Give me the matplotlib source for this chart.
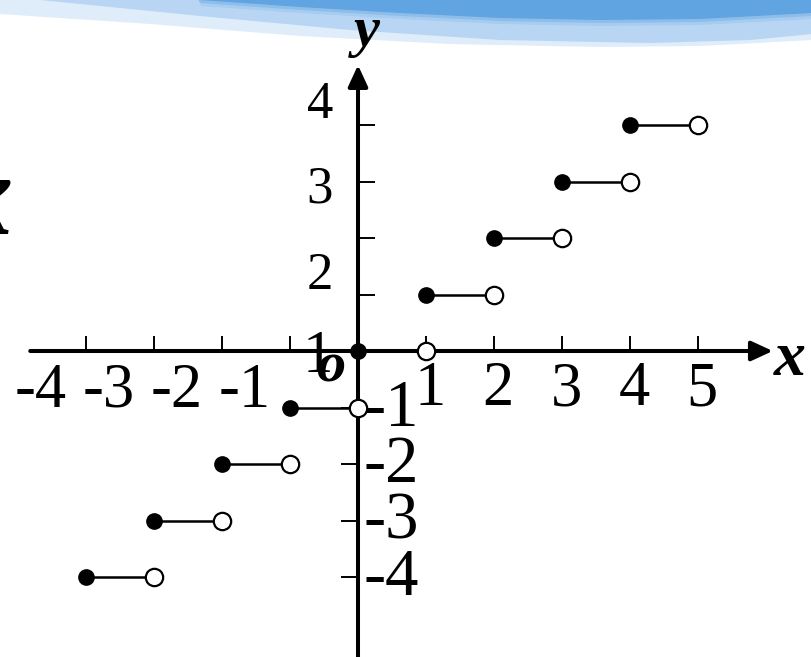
import matplotlib
matplotlib.use("Agg")
import matplotlib.pyplot as plt
import numpy as np

# y = floor(x): on [n, n+1) the value is n
levels = [-4, -3, -2, -1, 0, 1, 2, 3, 4]

x_ticks = [-4, -3, -2, -1, 1, 2, 3, 4, 5]
x_neg_labels = ["-4", "-3", "-2", "-1"]
x_pos_labels = ["1", "2", "3", "4", "5"]
y_pos_ticks = [1, 2, 3, 4]
y_pos_labels = ["1", "2", "3", "4"]
y_neg_ticks = [-1, -2, -3, -4]
y_neg_labels = ["-1", "-2", "-3", "-4"]

W, H = 812, 657
SERIF = "Liberation Serif"

fig = plt.figure(figsize=(W / 100, H / 100), dpi=100)

# ---- decorative banner along the top (pixel coordinates) ----
bg = fig.add_axes([0, 0, 1, 1])
bg.set_xlim(0, W)
bg.set_ylim(H, 0)
bg.axis("off")

bx = np.linspace(0, W, 300)
pale = np.interp(bx, [0, 150, 300, 450, 600, 700, 812], [14, 24, 36, 44, 47, 46, 40])
mid = np.interp(bx, [40, 200, 350, 500, 650, 750, 812], [0, 16, 30, 40, 43, 40, 34])
dark = np.interp(bx, [200, 300, 400, 500, 600, 700, 812], [0, 7, 13, 18, 20, 19, 13])
bg.fill_between(bx, 0, pale, color="#dfecf9", lw=0)
bg.fill_between(bx, 0, np.where(bx >= 40, mid, 0), color="#b8d6f3", lw=0)
bg.fill_between(bx, 0, np.where(bx >= 200, dark, 0), color="#60a4e2", lw=0)
# soft fade at the lower edge of the dark band
for k, a in enumerate([0.35, 0.2]):
    bg.fill_between(bx, 0, np.where(bx >= 200, dark + 3 * (k + 1), 0),
                    color="#60a4e2", alpha=a, lw=0)

# partial glyph cut by the left edge
bg.text(-16, 234, "x", fontsize=84, family=SERIF, weight="bold", style="italic",
        ha="center", va="baseline", color="k")

# ---- coordinate plane ----
ax = fig.add_axes([0, 0, 1, 1])
ax.patch.set_alpha(0)
ox, oy, sx, sy = 358, 351, 68.0, 56.5   # origin pixel and pixels per unit
ax.set_xlim(-ox / sx, (W - ox) / sx)
ax.set_ylim(-(H - oy) / sy, oy / sy)

for s in ax.spines.values():
    s.set_visible(False)
ax.spines["bottom"].set_position(("data", 0))
ax.spines["left"].set_position(("data", 0))

ax.set_xticks(x_ticks)
ax.set_yticks(y_pos_ticks)
ax.set_yticks(y_neg_ticks, minor=True)
ax.tick_params(axis="x", direction="in", length=11, width=1.4, color="k",
               labelbottom=False, top=False)
ax.tick_params(axis="y", which="major", direction="in", length=12, width=1.4,
               color="k", labelleft=False, right=False)
ax.tick_params(axis="y", which="minor", direction="out", length=12, width=1.4,
               color="k", labelleft=False, right=False)

# axes with arrowheads
arrow = dict(arrowstyle="-|>,head_length=0.65,head_width=0.3", lw=2.9,
             color="k", shrinkA=0, shrinkB=0, mutation_scale=20)
ax.annotate("", xy=(6.10, 0), xytext=(-4.82, 0), arrowprops=arrow, zorder=2)
ax.annotate("", xy=(0, 5.06), xytext=(0, -6.0), arrowprops=arrow, zorder=2)

# step segments: closed dot at the left end, open dot at the right end
for n in levels:
    ax.plot([n, n + 1], [n, n], color="k", lw=1.8, solid_capstyle="butt", zorder=3)
ax.plot(levels, levels, "o", ms=11, color="k", zorder=5)
ax.plot(np.array(levels) + 1, levels, "o", ms=12.5, mfc="white", mec="k",
        mew=1.6, zorder=5)

# tick labels
for v, t in zip(x_ticks[:4], x_neg_labels):
    ax.annotate(t, (v, 0), xytext=(-14, -40), textcoords="offset points",
                ha="right", va="baseline", fontsize=45, family=SERIF)
for v, t in zip(x_ticks[4:], x_pos_labels):
    ax.annotate(t, (v, 0), xytext=(3, -39), textcoords="offset points",
                ha="center", va="baseline", fontsize=45, family=SERIF)

y_pos_dy = [-56, -37, -15, 5]   # baseline offsets in points
y_pos_size = [44, 38, 38, 38]
for v, t, dy, fs in zip(y_pos_ticks, y_pos_labels, y_pos_dy, y_pos_size):
    ax.annotate(t, (0, v), xytext=(-18, dy), textcoords="offset points",
                ha="right", va="baseline", fontsize=fs, family=SERIF, zorder=1)
for v, t in zip(y_neg_ticks, y_neg_labels):
    ax.annotate(t, (0, v), xytext=(4, -13), textcoords="offset points",
                ha="left", va="baseline", fontsize=48, family=SERIF)

# axis names and origin
ax.annotate("x", (6.10, 0), xytext=(1, -17), textcoords="offset points",
            ha="left", va="baseline", fontsize=46, family=SERIF,
            weight="bold", style="italic")
ax.annotate("y", (0, 5.06), xytext=(6, 14), textcoords="offset points",
            ha="center", va="baseline", fontsize=42, family=SERIF,
            weight="bold", style="italic")
ax.annotate("o", (0, 0), xytext=(-20, -22), textcoords="offset points",
            ha="center", va="baseline", fontsize=42, family=SERIF,
            weight="bold", style="italic")

fig.savefig("out.png", dpi=100)
